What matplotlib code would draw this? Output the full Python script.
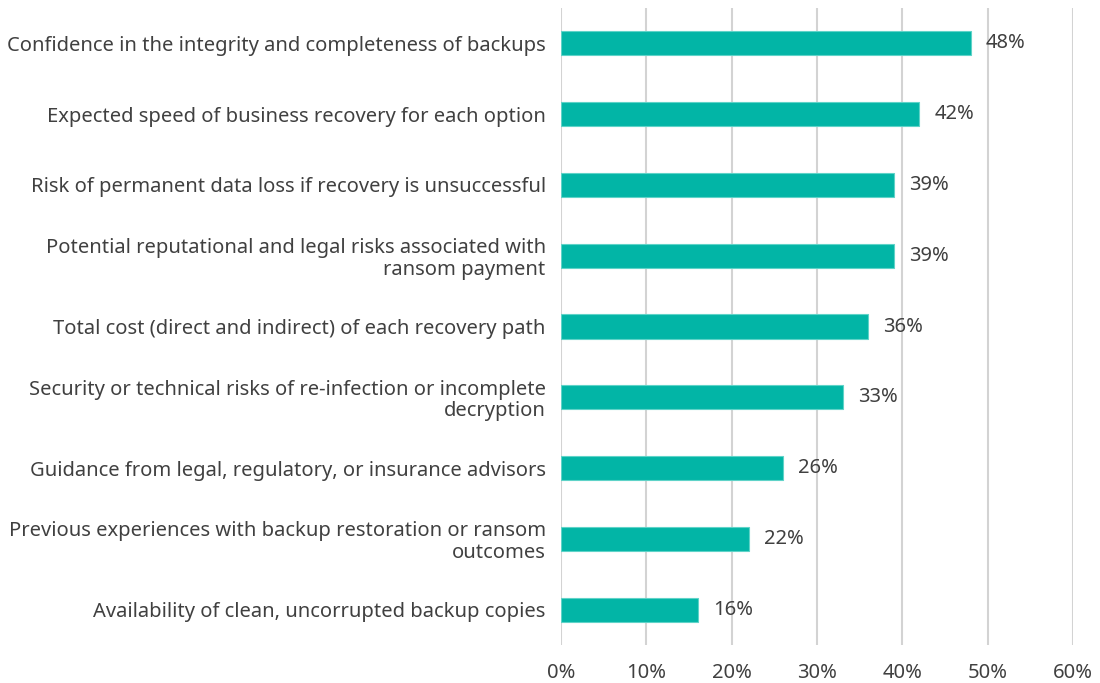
import matplotlib.pyplot as plt

# Survey factors and share of respondents (%)
factors = [
    "Confidence in the integrity and completeness of backups",
    "Expected speed of business recovery for each option",
    "Risk of permanent data loss if recovery is unsuccessful",
    "Potential reputational and legal risks associated with\nransom payment",
    "Total cost (direct and indirect) of each recovery path",
    "Security or technical risks of re-infection or incomplete\ndecryption",
    "Guidance from legal, regulatory, or insurance advisors",
    "Previous experiences with backup restoration or ransom\noutcomes",
    "Availability of clean, uncorrupted backup copies",
]
shares = [48, 42, 39, 39, 36, 33, 26, 22, 16]
x_ticks = [0, 10, 20, 30, 40, 50, 60]

plt.rcParams['font.family'] = ['Noto Sans', 'DejaVu Sans']
text_color = "#404040"
bar_color = "#02B5A6"
fs = 14.5

fig = plt.figure(figsize=(11, 6.83), dpi=100)
ax = fig.add_axes([561 / 1100, 38 / 683, (1073 - 561) / 1100, (645 - 8) / 683])

ypos = list(range(len(factors)))
ax.barh(ypos, shares, height=0.34, color=bar_color, edgecolor="#5fd3c8", linewidth=0.8, zorder=3)

for y, v in zip(ypos, shares):
    ax.text(v + 1.8, y, f"{v}%", va="center", ha="left", fontsize=fs, color=text_color, zorder=4)

ax.set_xlim(0, 60)
ax.set_ylim(len(factors) - 0.5, -0.5)
ax.set_xticks(x_ticks)
ax.set_xticklabels([f"{t}%" for t in x_ticks], fontsize=fs, color=text_color)
ax.set_yticks(ypos)
ax.set_yticklabels(factors, fontsize=fs, color=text_color, ha="right", linespacing=1.1)
ax.tick_params(axis="both", length=0)
ax.tick_params(axis="x", pad=13)
ax.tick_params(axis="y", pad=11)

ax.grid(axis="x", color="#d3d3d3", linewidth=1.5, zorder=0)
ax.set_axisbelow(True)
for s in ax.spines.values():
    s.set_visible(False)

fig.savefig("out.png", dpi=100, facecolor="white")
